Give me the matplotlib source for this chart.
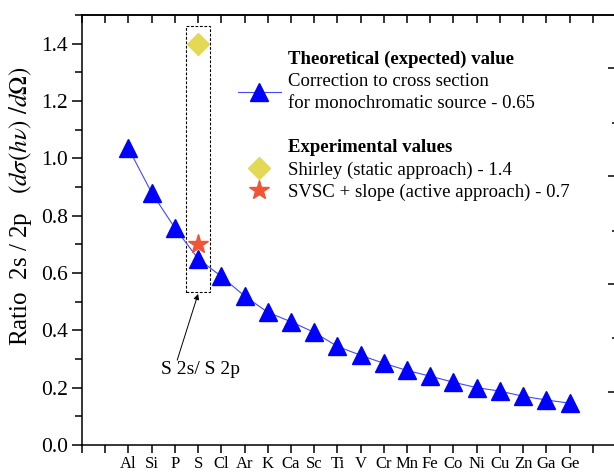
import matplotlib
matplotlib.use('Agg')
import matplotlib.pyplot as plt
from matplotlib.lines import Line2D
from matplotlib.patches import Rectangle
from matplotlib.ticker import FixedLocator, MultipleLocator

plt.rcParams['font.family'] = ['Liberation Serif', 'DejaVu Serif']
plt.rcParams['mathtext.fontset'] = 'stix'

# data
elements = ['Al', 'Si', 'P', 'S', 'Cl', 'Ar', 'K', 'Ca', 'Sc', 'Ti',
            'V', 'Cr', 'Mn', 'Fe', 'Co', 'Ni', 'Cu', 'Zn', 'Ga', 'Ge']
z = list(range(13, 33))
ratio_theory = [1.035, 0.88, 0.757, 0.65, 0.588, 0.52, 0.463, 0.43, 0.393, 0.344,
                0.313, 0.285, 0.26, 0.24, 0.219, 0.20, 0.188, 0.17, 0.157, 0.146]
s_z = 16
shirley = 1.40
svsc = 0.70

fig = plt.figure(figsize=(6.14, 4.73), dpi=100)
ax = fig.add_axes([82/614, 28/473, 534/614, 430/473])

ln, = ax.plot(z, ratio_theory, '-', color='#4646ff', lw=0.8, marker='^', ms=13,
              mfc='#0000ff', mec='#0000ff', zorder=3)
dm, = ax.plot([s_z], [shirley], 'D', ms=10.7, color='#e3d955', zorder=4)
st, = ax.plot([s_z], [svsc], '*', ms=15, color='#f05535', zorder=4)

# dashed box around S
ax.add_patch(Rectangle((s_z - 0.53, 0.533), 1.06, 0.928, fill=False,
                       ls=(0, (2.5, 1.5)), lw=0.8, color='k', zorder=2))
ax.annotate('', xy=(s_z, 0.527), xytext=(s_z - 0.9, 0.296),
            arrowprops=dict(arrowstyle='-|>', color='k', lw=0.7,
                            shrinkA=0, shrinkB=0, mutation_scale=8))
ax.text(s_z + 0.1, 0.264, 'S 2s/ S 2p', ha='center', va='center', fontsize=14)

ax.set_xlim(11, 34)
ax.set_ylim(0, 1.5)

ticks = list(range(11, 35))
labels = [elements[z.index(t)] if t in z else '' for t in ticks]
ax.set_xticks(ticks)
ax.set_xticklabels(labels, fontsize=12)
ax.set_yticks([0, 0.2, 0.4, 0.6, 0.8, 1.0, 1.2, 1.4])
ax.set_yticklabels(['0.0', '0.2', '0.4', '0.6', '0.8', '1.0', '1.2', '1.4'], fontsize=15.5)
ax.yaxis.set_minor_locator(MultipleLocator(0.1))
ax.tick_params(axis='x', which='major', direction='out', length=6, width=1.1, pad=2)
ax.tick_params(axis='y', which='major', direction='out', length=7, width=1.1, pad=3)
ax.tick_params(axis='y', which='minor', direction='out', length=5, width=1.1)
for sp in ax.spines.values():
    sp.set_linewidth(1.1)

top = ax.secondary_xaxis('top')
top.set_xticks(ticks)
top.tick_params(direction='in', length=6, width=1.1, labeltop=False)
top.spines['top'].set_linewidth(1.1)

right = ax.secondary_yaxis('right')
right.yaxis.set_major_locator(FixedLocator([0.184, 0.563, 0.939, 1.315]))
right.yaxis.set_minor_locator(FixedLocator([0.372, 0.748, 1.123]))
right.tick_params(which='major', direction='in', length=6, width=1.1, labelright=False)
right.tick_params(which='minor', direction='in', length=3, width=1.1)

ax.set_ylabel(r'Ratio  2s / 2p   $(d\sigma(h\nu)\ /d\mathit{\Omega})$', fontsize=18)
ax.yaxis.set_label_coords(-0.09, 0.556)

blank = Line2D([], [], ls='none')
handles = [blank, ln, blank, blank, dm, st]
names = ['Theoretical (expected) value',
         'Correction to cross section\nfor monochromatic source - 0.65',
         ' ',
         'Experimental values',
         'Shirley (static approach) - 1.4',
         'SVSC + slope (active approach) - 0.7']
leg = ax.legend(handles, names, loc='upper left', bbox_to_anchor=(0.292, 0.918),
                frameon=False, fontsize=13.5, handlelength=2.3, handletextpad=0.35,
                borderpad=0, borderaxespad=0, labelspacing=0.27, numpoints=1)
for t in leg.get_texts():
    t.set_linespacing(1.4)
leg.get_texts()[0].set_fontweight('bold')
leg.get_texts()[3].set_fontweight('bold')

fig.savefig('out.png', dpi=100)
